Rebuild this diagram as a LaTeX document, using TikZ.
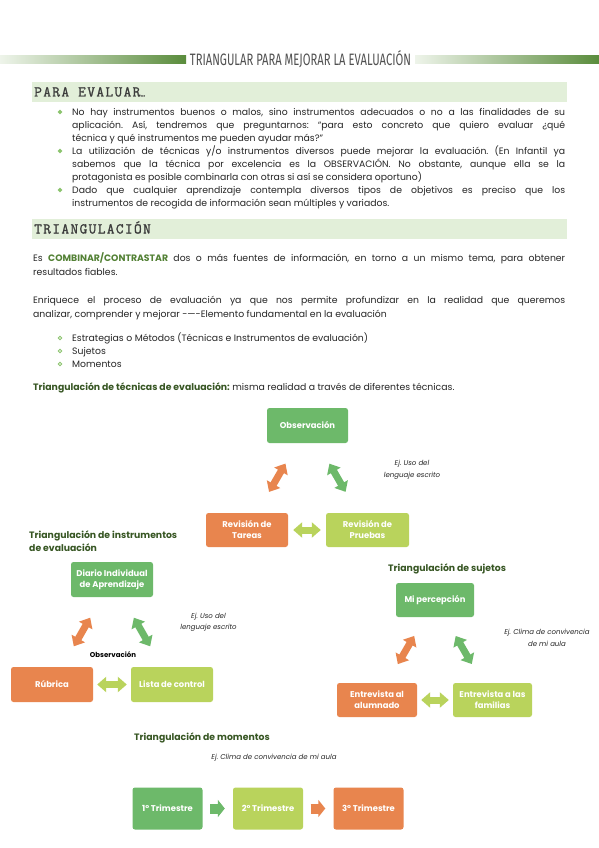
\documentclass[tikz,border=0pt]{standalone}
\usepackage{fontspec}
\setmainfont{Poppins}
\newfontfamily\titlefont{Fira Sans}
\newfontfamily\hdrfont{Latin Modern Mono}[LetterSpace=9,FakeBold=1.4]
\usetikzlibrary{arrows.meta}
\definecolor{dkgreen}{HTML}{375623}
\definecolor{hlgreen}{HTML}{538135}
\definecolor{bandc}{HTML}{E2EFD9}
\definecolor{boxgreen}{HTML}{6DB96A}
\definecolor{boxlime}{HTML}{B9D35C}
\definecolor{boxorange}{HTML}{E8854E}
\definecolor{bulletc}{HTML}{8CC46E}
\definecolor{txt}{HTML}{262626}
\definecolor{barlight}{HTML}{EEF4EA}
\definecolor{bardark}{HTML}{5A8C3C}
\newcommand\J[2]{\makebox[#1][s]{#2}}
\frenchspacing
\tikzset{
  hdr/.style={anchor=base west, inner sep=0, text=txt!90, font=\hdrfont\fontsize{15}{15}\selectfont},
  txtline/.style={anchor=base west, inner sep=0, text=txt, font=\frenchspacing\fontsize{9.3}{13}\selectfont},
  subttl/.style={anchor=west, inner sep=0, text=dkgreen, align=left, font=\bfseries\fontsize{9.3}{13}\selectfont},
  boxn/.style={rounded corners=2.5pt, text=white, align=center, inner sep=0,
    font=\bfseries\fontsize{8.4}{11}\selectfont},
  note/.style={align=center, inner sep=0, text=txt, font=\itshape\fontsize{7}{12}\selectfont},
  dbl/.style={line width=7pt, {Triangle[width=15pt,length=9pt]}-{Triangle[width=15pt,length=9pt]}},
  blockarr/.style={line width=10pt, -{Triangle[width=17pt,length=7pt]}},
}
\begin{document}
\begin{tikzpicture}[x=1pt,y=-1pt]
\useasboundingbox (0,0) rectangle (599,848);
\fill[white] (0,0) rectangle (599,848);
% title bars
\shade[left color=barlight, right color=bardark] (0,55.5) rectangle (186,63.5);
\shade[left color=barlight, right color=bardark] (415,55.5) rectangle (599,63.5);
\node[inner sep=0, text=txt!80] (title) at (300.5,59.5)
  {\scalebox{0.68}[1]{\titlefont\fontsize{16.5}{16.5}\selectfont TRIANGULAR PARA MEJORAR LA EVALUACIÓN}};
% band 1
\fill[bandc] (32,82) rectangle (567,102);
\node[hdr] (h1) at (34,96.5) {PARA EVALUAR{\fontsize{9}{9}\selectfont\ldots}};
% bullets
\foreach \yy in {112,151,190}{
  \fill[bulletc] (60,\yy-2.3) -- (62.3,\yy) -- (60,\yy+2.3) -- (57.7,\yy) -- cycle;
}
\node[txtline] (l1) at (72,115.5) {\J{493pt}{No hay instrumentos buenos o malos, sino instrumentos adecuados o no a las finalidades de su}};
\node[txtline] (l2) at (72,128.5) {\J{493pt}{aplicación. Así, tendremos que preguntarnos: “para esto concreto que quiero evaluar ¿qué}};
\node[txtline] (l3) at (72,141.5) {técnica y qué instrumentos me pueden ayudar más?”};
\node[txtline] (l4) at (72,154.5) {\J{493pt}{La utilización de técnicas y/o instrumentos diversos puede mejorar la evaluación. (En Infantil ya}};
\node[txtline] (l5) at (72,167.5) {\J{493pt}{sabemos que la técnica por excelencia es la OBSERVACIÓN. No obstante, aunque ella se la}};
\node[txtline] (l6) at (72,180.5) {protagonista es posible combinarla con otras si así se considera oportuno)};
\node[txtline] (l7) at (72,193.5) {\J{493pt}{Dado que cualquier aprendizaje contempla diversos tipos de objetivos es preciso que los}};
\node[txtline] (l8) at (72,206.5) {instrumentos de recogida de información sean múltiples y variados.};
% band 2
\fill[bandc] (32,219) rectangle (567,239);
\node[hdr] (h2) at (34,233.5) {TRIANGULACIÓN};
\node[txtline] (p1) at (33,261.5) {\J{532pt}{Es {\bfseries\color{hlgreen}COMBINAR/CONTRASTAR} dos o más fuentes de información, en torno a un mismo tema, para obtener}};
\node[txtline] (p2) at (33,275.5) {resultados fiables.};
\node[txtline] (p3) at (33,303) {\J{532pt}{Enriquece el proceso de evaluación ya que nos permite profundizar en la realidad que queremos}};
\node[txtline] (p4) at (33,317) {analizar, comprender y mejorar -—-Elemento fundamental en la evaluación};
\foreach \yy in {338,351,364}{
  \draw[bulletc, line width=0.8pt] (60,\yy) circle (1.8);
}
\node[txtline] (s1) at (72,341) {Estrategias o Métodos (Técnicas e Instrumentos de evaluación)};
\node[txtline] (s2) at (72,354) {Sujetos};
\node[txtline] (s3) at (72,367) {Momentos};
\node[txtline] (tt) at (33,390.5) {{\bfseries\color{dkgreen}Triangulación de técnicas de evaluación:} misma realidad a través de diferentes técnicas.};
% diagram 1
\node[boxn, fill=boxgreen, minimum width=81pt, minimum height=35pt] (obs) at (307.5,425.5) {Observación};
\node[boxn, fill=boxorange, minimum width=82pt, minimum height=34pt] (tar) at (247,530) {Revisión de\\Tareas};
\node[boxn, fill=boxlime, minimum width=83pt, minimum height=34pt] (pru) at (367.5,530) {Revisión de\\Pruebas};
\draw[dbl, boxorange, shorten <=44pt, shorten >=44pt] (tar.center) -- (obs.center);
\draw[dbl, boxgreen, shorten <=44pt, shorten >=44pt] (obs.center) -- (pru.center);
\draw[dbl, boxlime, shorten <=5pt, shorten >=5pt] (tar.east) -- (pru.west);
\node[note] (n1) at (412,470) {Ej. Uso del\\lenguaje escrito};
% diagram 2
\node[subttl] (t2) at (29,541) {Triangulación de instrumentos\\de evaluación};
\node[boxn, fill=boxgreen, minimum width=82pt, minimum height=35pt] (dia) at (112,579.5) {Diario Individual\\de Aprendizaje};
\node[boxn, fill=boxorange, minimum width=82pt, minimum height=35pt] (rub) at (52,684.5) {Rúbrica};
\node[boxn, fill=boxlime, minimum width=82pt, minimum height=35pt] (lis) at (172,684.5) {Lista de control};
\draw[dbl, boxorange, shorten <=44pt, shorten >=44pt] (rub.center) -- (dia.center);
\draw[dbl, boxgreen, shorten <=44pt, shorten >=44pt] (dia.center) -- (lis.center);
\draw[dbl, boxlime, shorten <=4pt, shorten >=4pt] (rub.east) -- (lis.west);
\node[inner sep=0, text=black, font=\bfseries\fontsize{7}{8}\selectfont] (obl) at (113,655) {Observación};
\node[note, font=\itshape\fontsize{7}{11}\selectfont] (n2) at (208.5,622.5) {Ej. Uso del\\lenguaje escrito};
% diagram 3
\node[subttl] (t3) at (388,569) {Triangulación de sujetos};
\node[boxn, fill=boxgreen, minimum width=78pt, minimum height=34pt] (mip) at (435,600) {Mi percepción};
\node[boxn, fill=boxorange, minimum width=80pt, minimum height=34pt] (alu) at (377,700) {Entrevista al\\alumnado};
\node[boxn, fill=boxlime, minimum width=79pt, minimum height=34pt] (fam) at (492.5,700) {Entrevista a las\\familias};
\draw[dbl, boxorange, shorten <=41.5pt, shorten >=41.5pt] (alu.center) -- (mip.center);
\draw[dbl, boxgreen, shorten <=41.5pt, shorten >=41.5pt] (mip.center) -- (fam.center);
\draw[dbl, boxlime, shorten <=4pt, shorten >=4pt] (alu.east) -- (fam.west);
\node[note] (n3) at (547,638) {Ej. Clima de convivencia\\de mi aula};
% diagram 4
\node[subttl] (t4) at (134,738) {Triangulación de momentos};
\node[note] (n4) at (274,758) {Ej. Clima de convivencia de mi aula};
\node[boxn, fill=boxgreen, minimum width=70pt, minimum height=42pt] (m1) at (167.5,808.5) {1° Trimestre};
\node[boxn, fill=boxlime, minimum width=70pt, minimum height=42pt] (m2) at (268,808.5) {2° Trimestre};
\node[boxn, fill=boxorange, minimum width=70pt, minimum height=42pt] (m3) at (368.5,808.5) {3° Trimestre};
\draw[blockarr, boxgreen, shorten <=7.5pt, shorten >=8pt] (m1.east) -- (m2.west);
\draw[blockarr, boxorange, shorten <=7.5pt, shorten >=8pt] (m2.east) -- (m3.west);
\end{tikzpicture}
\end{document}
